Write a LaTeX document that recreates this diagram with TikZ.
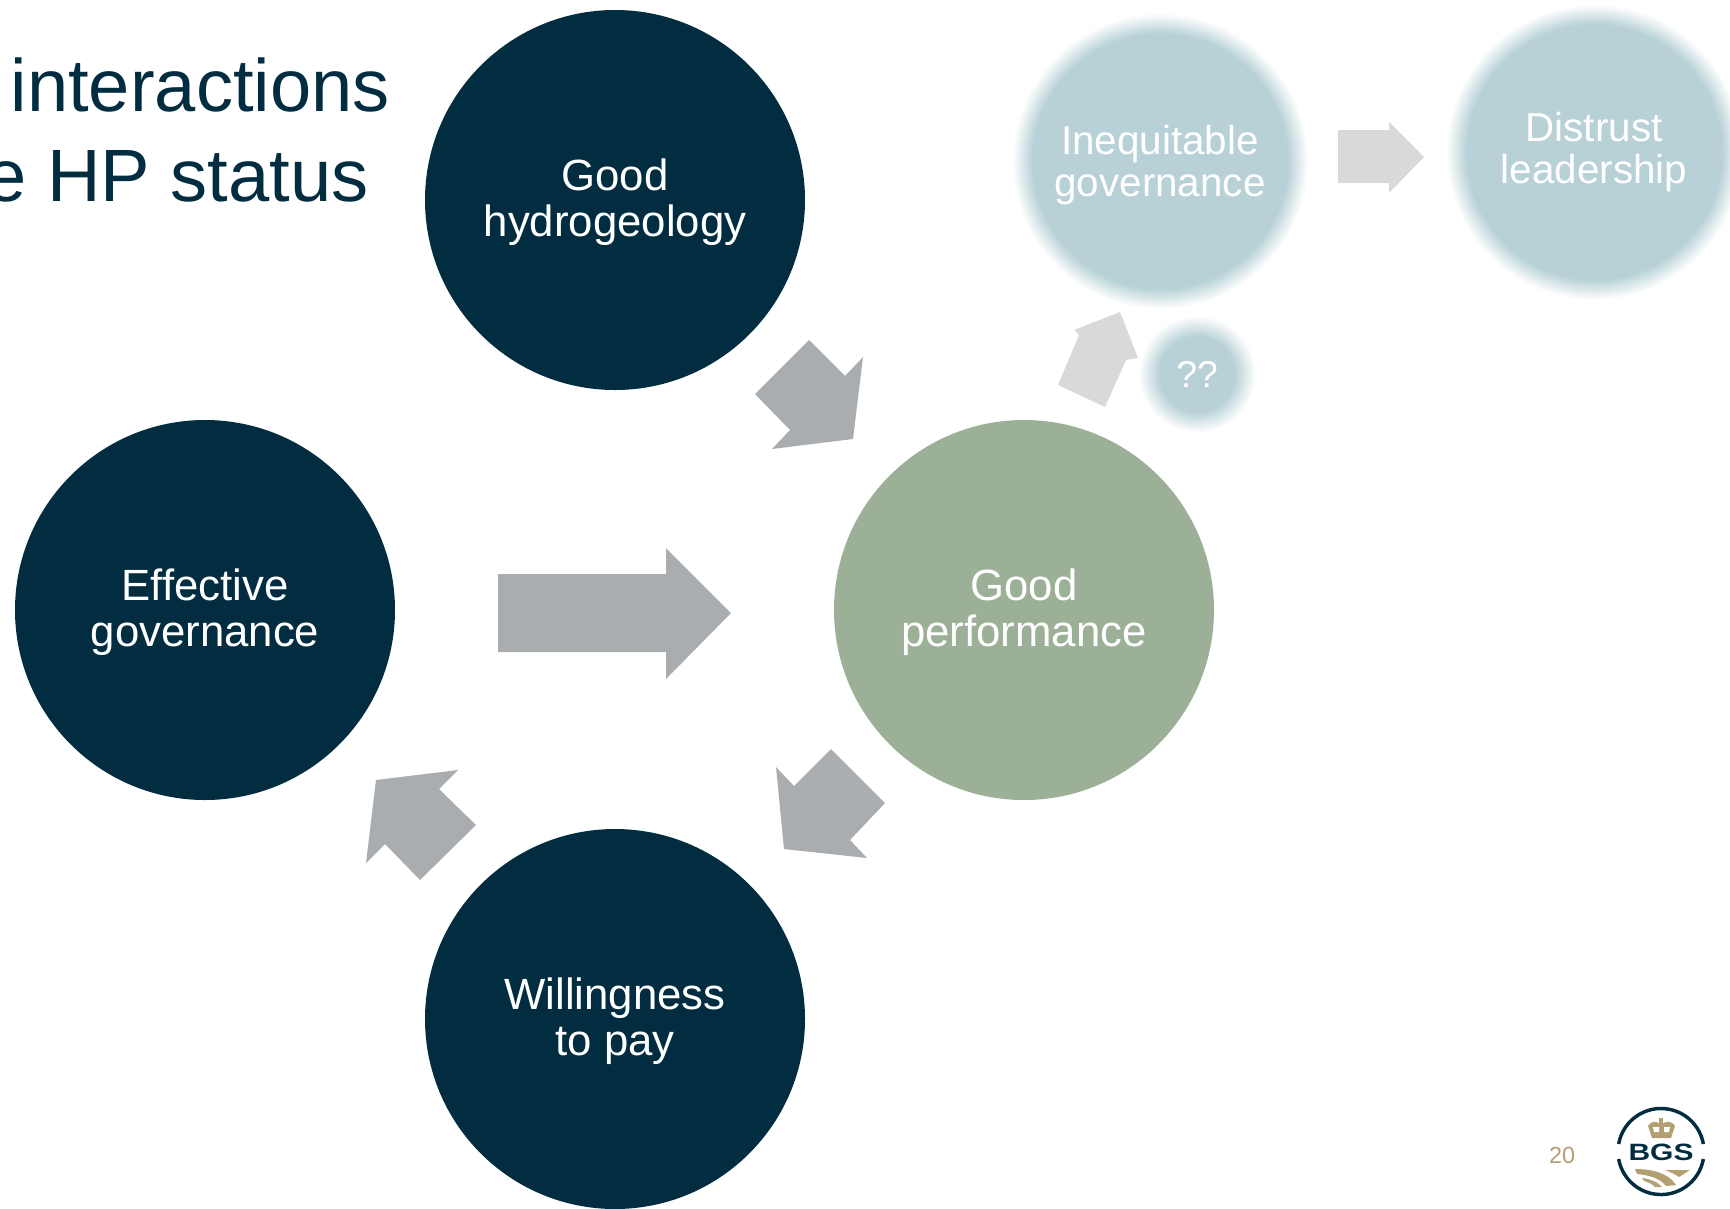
\documentclass[tikz,border=0pt]{standalone}
\usepackage{xcolor}
\usepackage{fontspec}
\usepackage{tikz}
\setmainfont{Liberation Sans}

\definecolor{bgsnavy}{HTML}{022D41}
\definecolor{perfgreen}{HTML}{9BB096}
\definecolor{softblue}{HTML}{B7D1D6}
\definecolor{arrowgrey}{HTML}{A9ADB0}
\definecolor{fadegrey}{HTML}{D9D9D9}
\definecolor{bgsgold}{HTML}{B39F6F}

\pgfdeclareradialshading{softbig}{\pgfpoint{0bp}{0bp}}{color(0bp)=(softblue); color(21.5bp)=(softblue); color(25bp)=(white); color(50bp)=(white)}
\pgfdeclareradialshading{softsmall}{\pgfpoint{0bp}{0bp}}{color(0bp)=(softblue); color(16bp)=(softblue); color(25bp)=(white); color(50bp)=(white)}

\tikzset{
  bigdisc/.style={circle,minimum size=285pt,inner sep=0pt,align=center,text=white,text height=62pt,font=\fontsize{32.8}{34.4}\selectfont},
  softdisc/.style={circle,minimum size=222pt,inner sep=0pt,align=center,text=white,shading=softbig,font=\fontsize{30.3}{31.5}\selectfont},
  blockarrow/.style={fill=arrowgrey,draw=none},
  fadearrow/.style={fill=fadegrey,draw=none},
  titleline/.style={anchor=base east,inner sep=0pt,text=bgsnavy,font=\fontsize{55.6}{67}\selectfont}
}

\begin{document}
\begin{tikzpicture}[x=0.75pt,y=0.75pt,yscale=-1,xscale=1]
\useasboundingbox (0,0) rectangle (1730,1208);

\draw (390,111) node (titlea) [titleline] {interactions};

\draw (369,201) node (titleb) [titleline] {e HP status};

\node (hydro) [bigdisc,fill=bgsnavy] at (615,200) {Good\\hydrogeology};

\node (effective) [bigdisc,fill=bgsnavy] at (205,610) {Effective\\governance};

\node (willingness) [bigdisc,fill=bgsnavy] at (615,1019) {Willingness\\to pay};

\node (inequitable) [softdisc,text height=58.8pt] at (1160,161) {Inequitable\\governance};

\node (distrust) [softdisc] at (1594,152) {Distrust\\leadership};

\node (unknown) [softdisc,minimum size=88pt,shading=softsmall,font=\fontsize{28}{30}\selectfont] at (1197,374) {??};

\node (performance) [bigdisc,fill=perfgreen] at (1024,610) {Good\\performance};

\draw [blockarrow] (498,574) -- (666,574) -- (666,548) -- (731,613) -- (666,679) -- (666,652) -- (498,652) -- cycle ;

\draw [blockarrow] (809,340) -- (845,376) -- (863,357) -- (853,439) -- (772,449) -- (790,430) -- (755,394) -- cycle ;

\draw [blockarrow] (831,749) -- (885,803) -- (850,840) -- (867,858) -- (784,849) -- (776,767) -- (794,786) -- cycle ;

\draw [blockarrow] (476,825) -- (439,789) -- (458,770) -- (376,780) -- (366,863) -- (385,844) -- (420,880) -- cycle ;

\draw [fadearrow] (1338,130) -- (1389,130) -- (1389,122) -- (1424,157) -- (1389,193) -- (1389,183) -- (1338,183) -- cycle ;

\draw [fadearrow] (1058,385) -- (1105,407) -- (1126,360) -- (1138,358) -- (1120,312) -- (1074,330) -- (1079,335) -- cycle ;

\draw (1562,1155) node (pagenum) [text=bgsgold,font=\fontsize{17.5}{20}\selectfont] {20};

% logo
\draw [bgsnavy,line width=2.6pt] (1618.65,1144) arc [start angle=190,end angle=350,radius=43] ;

\draw [bgsnavy,line width=2.6pt] (1703.35,1159) arc [start angle=10,end angle=170,radius=43] ;

\node (bgsmark) [inner sep=0pt,text=bgsnavy,xscale=1.27,font=\fontsize{17.7}{18}\bfseries\selectfont] at (1661,1152) {BGS};

\draw [fill=bgsgold,draw=none] (1648,1126) .. controls (1652,1120) and (1657,1121) .. (1661,1125) .. controls (1665,1121) and (1671,1120) .. (1675,1126) -- (1671,1138) -- (1652,1138) -- cycle ;

\draw [fill=white,draw=none] (1653,1127) -- (1659,1127) -- (1659,1132) -- (1654,1132) -- cycle ;

\draw [fill=white,draw=none] (1664,1127) -- (1670,1127) -- (1669,1132) -- (1664,1132) -- cycle ;

\draw [fill=bgsgold,draw=none] (1659,1118) rectangle (1663,1126) ;

\draw [fill=bgsgold,draw=none] (1635,1169) .. controls (1650,1169) and (1668,1172) .. (1676,1185) -- (1666,1186) .. controls (1660,1178) and (1648,1175) .. (1637,1174) -- cycle ;

\draw [fill=bgsgold,draw=none] (1665,1170) -- (1690,1170) -- (1679,1177) .. controls (1675,1174) and (1670,1172) .. cycle ;

\draw [fill=bgsgold,draw=none] (1642,1178) .. controls (1650,1179) and (1658,1182) .. (1662,1187) -- (1655,1187) .. controls (1652,1184) and (1648,1182) .. (1644,1181) -- cycle ;
\end{tikzpicture}
\end{document}
